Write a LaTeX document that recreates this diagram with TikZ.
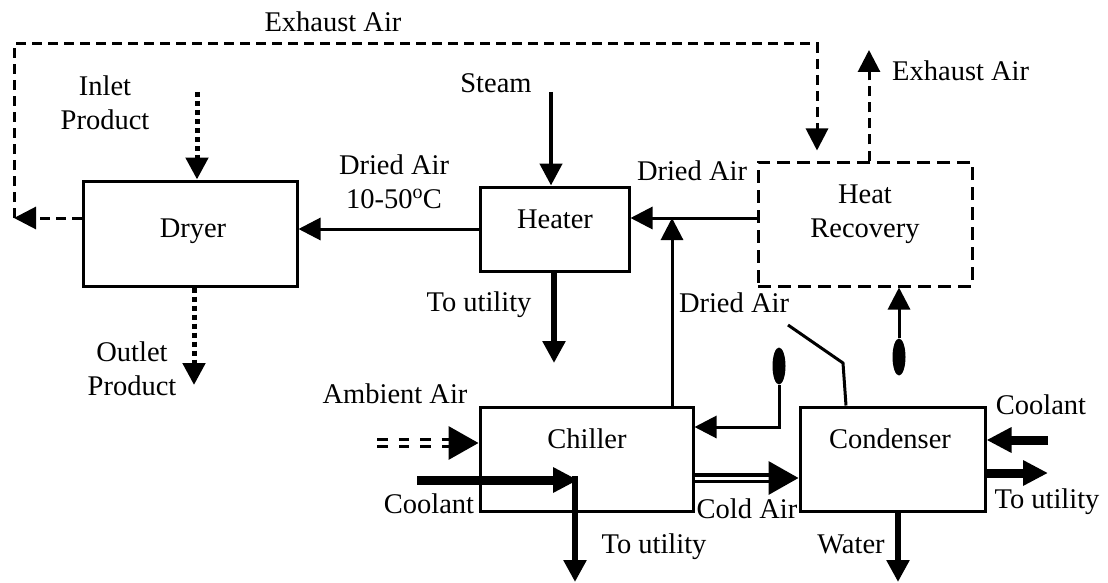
\documentclass[tikz,border=0pt]{standalone}
\usepackage{fontspec}
\setmainfont{Liberation Serif}
\usetikzlibrary{positioning,arrows.meta,shapes.geometric}
\tikzset{
  >={Triangle[length=22pt,width=22pt]},
  ubox/.style={draw,line width=3pt,inner sep=0pt},
  hrbox/.style={ubox,dash pattern=on 13pt off 7pt},
  lbl/.style={font=\fontsize{28.5}{34}\selectfont,inner sep=0pt,anchor=base},
  wire/.style={line width=3pt},
  flow/.style={line width=3pt,->},
  exline/.style={line width=3pt,dash pattern=on 10pt off 6pt,->},
  prodline/.style={line width=5pt,dash pattern=on 5pt off 4pt,->},
  steamline/.style={line width=4.5pt,->},
  utilline/.style={line width=6.5pt,->},
  coolline/.style={line width=9pt,-{Triangle[length=25pt,width=24pt]}},
  ambline/.style={line width=3.3pt,double distance=4pt,dash pattern=on 10.5pt off 11pt,-{Triangle[length=30pt,width=33pt]}},
  coldline/.style={line width=3.5pt,double distance=3pt,-{Triangle[length=30pt,width=33pt]}},
  sepr/.style={ellipse,fill,inner sep=0pt,minimum width=13pt,minimum height=37pt}
}
\begin{document}
\begin{tikzpicture}[x=1pt,y=-1pt]
\useasboundingbox (0,0) rectangle (1108,583);
% units
\node[ubox,minimum width=214pt,minimum height=105pt] (dryer) at (190,233.5) {};
\node[ubox,minimum width=149pt,minimum height=84pt] (heater) at (554.5,229) {};
\node[hrbox,minimum width=214pt,minimum height=124pt] (hr) at (865,224) {};
\node[ubox,minimum width=213pt,minimum height=104pt] (chiller) at (586.5,459) {};
\node[ubox,minimum width=185pt,minimum height=104pt] (cond) at (892.5,459) {};
\node[sepr] (sep1) at (779,366) {};
\node[sepr] (sep2) at (899,357) {};
% unit names
\node[lbl] (dryer-t) at (193,237) {Dryer};
\node[lbl] (heater-t) at (555,228) {Heater};
\node[lbl,align=center] (hr-t) at (865,237) {Heat\\Recovery};
\node[lbl] (chiller-t) at (587,448) {Chiller};
\node[lbl] (cond-t) at (890,448) {Condenser};
% free ends
\coordinate (exl) at (14,218);
\coordinate (exc1) at (14,44);
\coordinate (exc2) at (817,44);
\coordinate (exo) at (869,50);
\coordinate (inp) at (197,92);
\coordinate (outp) at (194,385);
\coordinate (stm) at (551,92);
\coordinate (hu) at (554,363);
\coordinate (jn) at (672,218);
\coordinate (amb) at (377,443);
\coordinate (ccl) at (417,480);
\coordinate (ccr) at (578,480);
\coordinate (cdn) at (575,476);
\coordinate (cut) at (575,582);
\coordinate (ca) at (0,478);
\coordinate (rt) at (779,427);
\coordinate (bk) at (843,363);
\coordinate (dl) at (788,325);
\coordinate (cin) at (1048,440);
\coordinate (cout) at (1048,473);
\coordinate (wat) at (898,582);
% air
\draw[exline] (dryer.west |- exl) -- (exl);
\draw[exline] (exl) -- (exc1) -- (exc2) -- ([yshift=10pt]hr.north -| exc2);
\draw[exline] (hr.north -| exo) -- (exo);
\draw[flow] (heater.west) -- (dryer.east |- heater.west);
\draw[flow] (hr.west |- jn) -- (heater.east |- jn);
\draw[flow] (chiller.north -| jn) -- (jn);
\draw[ambline] (amb) -- (chiller.west |- amb);
\draw[coldline] (chiller.east |- ca) -- (cond.west |- ca);
\draw[flow] (sep1.south) -- (rt) -- (chiller.east |- rt);
\draw[flow] (sep2.north) -- (hr.south -| sep2);
\draw[wire] (cond.north -| 846,0) -- (bk) -- (dl);
% product
\draw[prodline] (inp) -- (dryer.north -| inp);
\draw[prodline] (dryer.south -| outp) -- (outp);
% utilities
\draw[steamline] (stm) -- (heater.north -| stm);
\draw[utilline] (heater.south -| hu) -- (hu);
\draw[coolline] (ccl) -- (ccr);
\draw[utilline] (cdn) -- (cut);
\draw[coolline] (cin) -- (cond.east |- cin);
\draw[coolline] (cond.east |- cout) -- (cout);
\draw[utilline] (cond.south -| wat) -- (wat);
% stream labels
\node[lbl] (ex-top) at (333,32) {Exhaust Air};
\node[lbl,anchor=base west] (ex-out) at (892,81) {Exhaust Air};
\node[lbl,align=center] (inlet) at (105,130) {Inlet\\Product};
\node[lbl,align=center] (outlet) at (132,395) {Outlet\\Product};
\node[lbl,align=center] (dried1) at (394,208) {Dried Air\\10-50\textsuperscript{o}C};
\node[lbl] (steam) at (496,93) {Steam};
\node[lbl] (dried2) at (692,180) {Dried Air};
\node[lbl] (dried3) at (734,312) {Dried Air};
\node[lbl] (util1) at (479,311) {To utility};
\node[lbl] (ambient) at (395,403) {Ambient Air};
\node[lbl] (cool1) at (429,513) {Coolant};
\node[lbl] (util2) at (654,553) {To utility};
\node[lbl] (cold) at (747,518) {Cold Air};
\node[lbl] (water) at (851,553) {Water};
\node[lbl] (cool2) at (1041,414) {Coolant};
\node[lbl] (util3) at (1047,508) {To utility};
\end{tikzpicture}
\end{document}
